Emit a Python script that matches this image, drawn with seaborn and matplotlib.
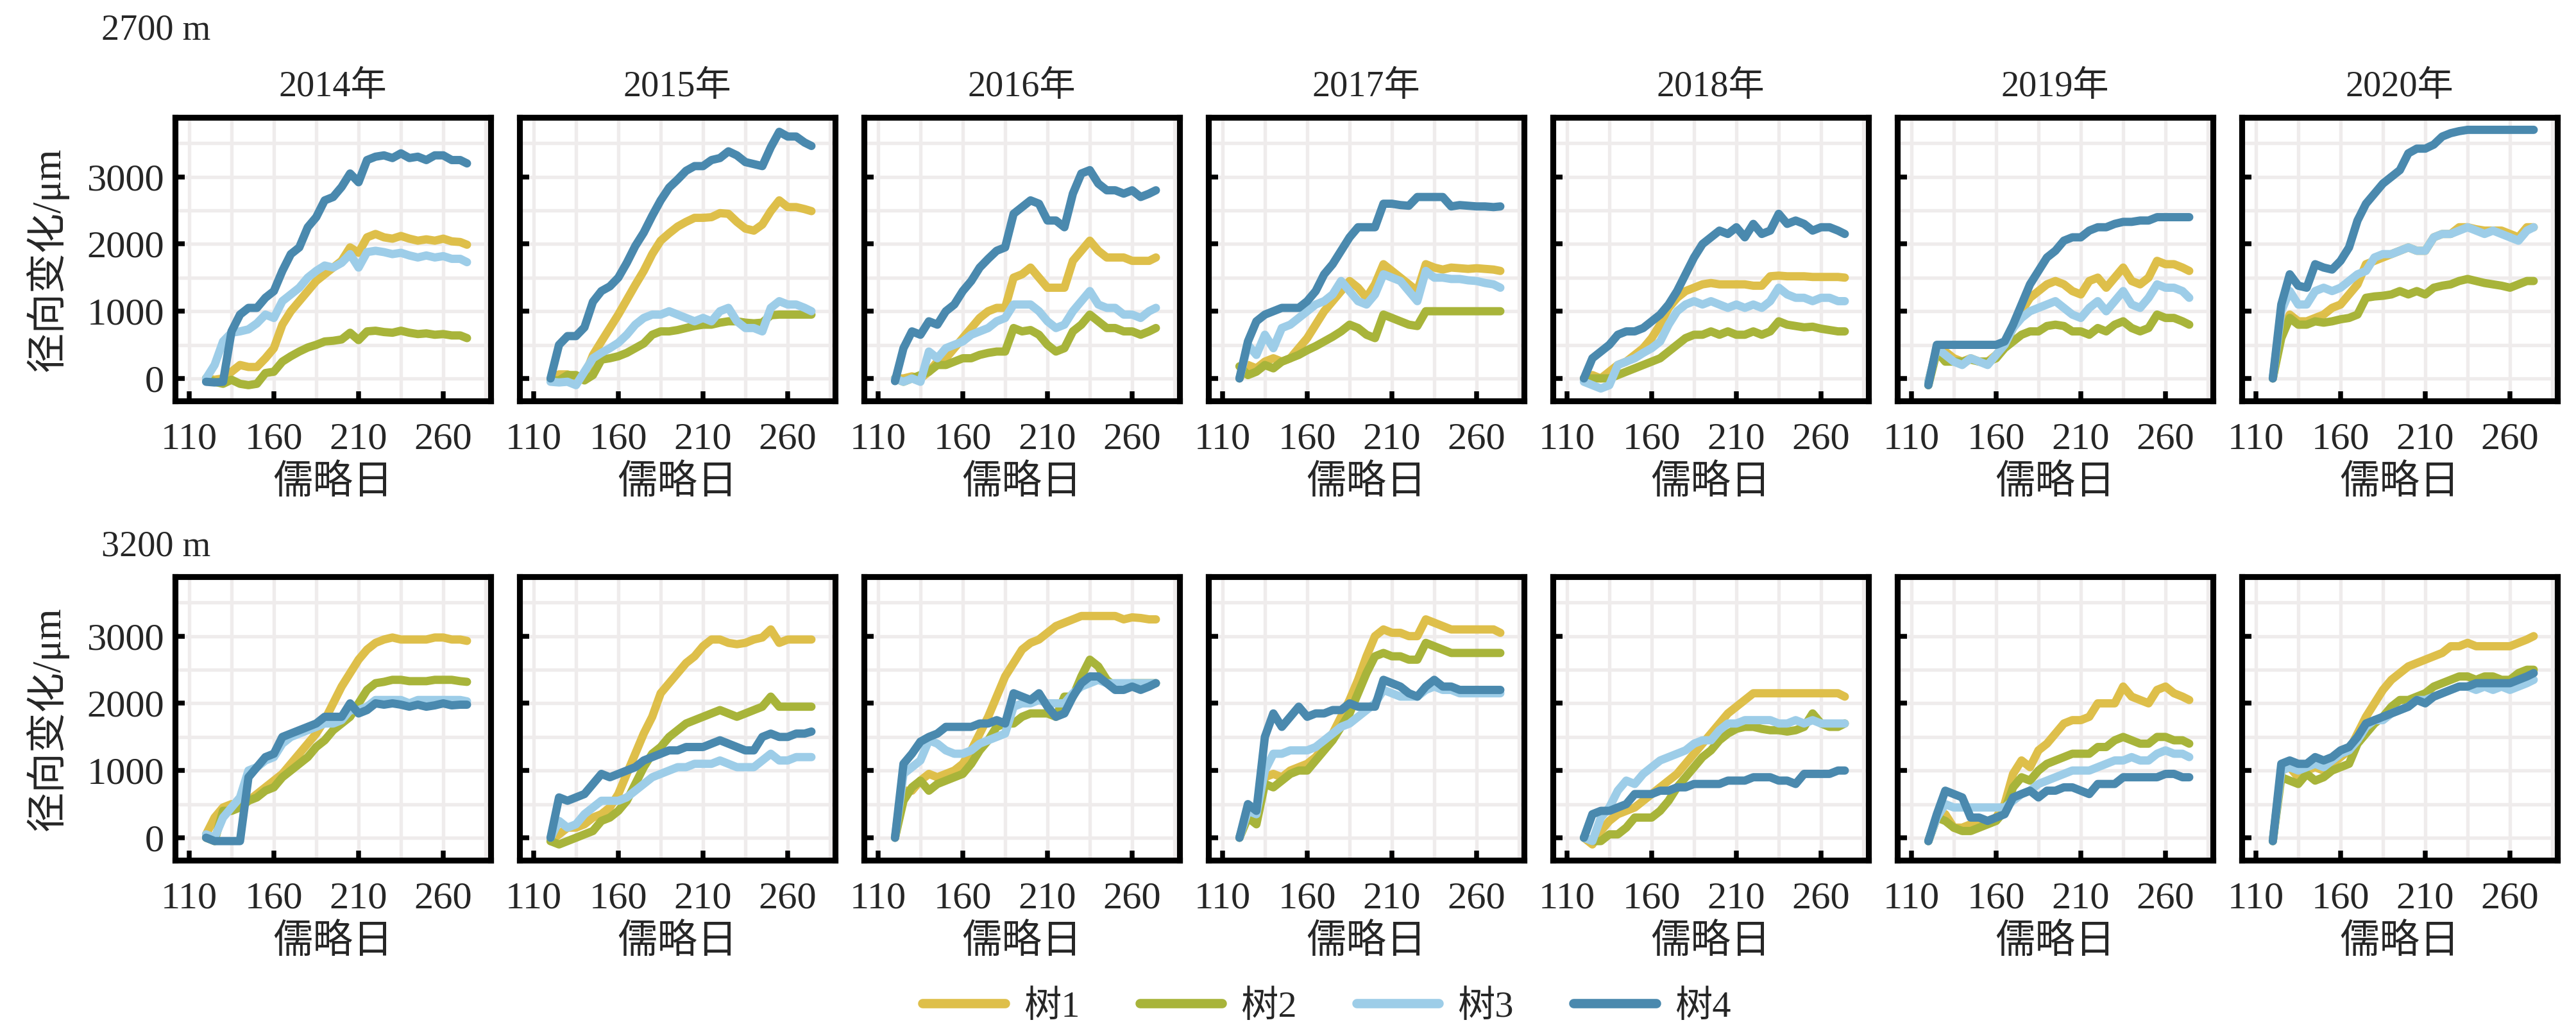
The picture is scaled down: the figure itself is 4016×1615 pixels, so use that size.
import matplotlib
matplotlib.use("Agg")
import matplotlib.pyplot as plt
import pandas as pd
import seaborn as sns
from matplotlib.ticker import FixedLocator, MultipleLocator

# Theme first, then fonts (set_theme resets font.family)
sns.set_theme(style="whitegrid")
plt.rcParams['font.family'] = ['Liberation Serif', 'Noto Sans CJK SC', 'DejaVu Sans']
plt.rcParams['axes.unicode_minus'] = False

# ---------------- data ----------------
days = [120, 125, 130, 135, 140, 145, 150, 155, 160, 165, 170, 175, 180, 185, 190, 195,
        200, 205, 210, 215, 220, 225, 230, 235, 240, 245, 250, 255, 260, 265, 270, 274]
years = ["2014年", "2015年", "2016年", "2017年", "2018年", "2019年", "2020年"]
trees = ["树1", "树2", "树3", "树4"]
sites = ["2700 m", "3200 m"]
colors = ["#DEBF4A", "#A8B43A", "#9DCDE8", "#4A89AE"]

# 2700 m
low_2014 = {
    "树1": [0, -20, 0, 100, 200, 170, 170, 300, 450, 800, 1000, 1150, 1300, 1450, 1550, 1650,
           1750, 1950, 1870, 2100, 2150, 2100, 2080, 2120, 2080, 2050, 2070, 2050, 2080, 2040, 2030, 1990],
    "树2": [0, -50, -80, -20, -80, -100, -80, 80, 100, 250, 330, 400, 460, 500, 550, 560,
           580, 680, 570, 700, 710, 690, 680, 710, 680, 660, 670, 650, 660, 640, 640, 600],
    "树3": [0, 200, 550, 680, 700, 730, 820, 950, 900, 1150, 1250, 1350, 1500, 1600, 1680, 1650,
           1720, 1850, 1650, 1880, 1900, 1880, 1850, 1870, 1830, 1800, 1830, 1800, 1820, 1780, 1780, 1730],
    "树4": [-50, -60, -50, 700, 950, 1050, 1050, 1200, 1300, 1600, 1850, 1950, 2250, 2400, 2650, 2700,
           2850, 3050, 2920, 3250, 3300, 3320, 3280, 3350, 3280, 3300, 3250, 3320, 3320, 3250, 3250, 3200],
}
low_2015 = {
    "树1": [-20, 60, 60, 0, 30, 345, 550, 750, 950, 1170, 1390, 1600, 1850, 2050, 2160, 2260,
           2330, 2390, 2390, 2400, 2460, 2450, 2330, 2230, 2200, 2290, 2490, 2650, 2550, 2550, 2520, 2490],
    "树2": [-30, -30, 50, 50, -30, 50, 280, 300, 330, 380, 450, 520, 650, 700, 700, 720,
           750, 780, 800, 800, 830, 850, 850, 830, 820, 830, 940, 950, 950, 950, 950, 950],
    "树3": [-50, -60, -50, -100, 100, 300, 380, 450, 530, 650, 800, 900, 950, 950, 1000, 950,
           900, 850, 900, 850, 1000, 1050, 850, 750, 750, 700, 1050, 1150, 1100, 1100, 1050, 1000],
    "树4": [0, 500, 630, 630, 760, 1140, 1300, 1370, 1500, 1720, 1970, 2170, 2420, 2650, 2840, 2960,
           3090, 3160, 3160, 3250, 3280, 3380, 3320, 3220, 3190, 3160, 3440, 3670, 3600, 3600, 3510, 3460],
}
low_2016 = {
    "树1": [0, 0, 30, 0, 100, 250, 300, 450, 600, 750, 900, 1000, 1050, 1050, 1500, 1550,
           1650, 1500, 1350, 1350, 1350, 1750, 1900, 2050, 1900, 1800, 1800, 1800, 1750, 1750, 1750, 1800],
    "树2": [0, -50, 0, 50, 100, 200, 200, 250, 300, 300, 350, 380, 400, 400, 750, 700,
           720, 650, 500, 400, 450, 700, 800, 950, 850, 750, 750, 700, 700, 650, 700, 750],
    "树3": [0, -50, 0, -50, 400, 300, 450, 500, 550, 650, 700, 750, 850, 900, 1100, 1100,
           1100, 1000, 850, 750, 800, 1000, 1150, 1300, 1100, 1050, 1050, 950, 950, 900, 1000, 1050],
    "树4": [-40, 450, 700, 650, 850, 800, 1000, 1100, 1300, 1450, 1650, 1780, 1900, 1950, 2450, 2550,
           2650, 2600, 2350, 2350, 2250, 2750, 3050, 3100, 2900, 2800, 2800, 2750, 2800, 2700, 2750, 2800],
}
low_2017 = {
    "树1": [0, 200, 150, 250, 300, 250, 300, 450, 600, 800, 1000, 1150, 1300, 1450, 1350, 1200,
           1400, 1700, 1600, 1500, 1400, 1300, 1700, 1650, 1620, 1650, 1640, 1630, 1640, 1630, 1620, 1600],
    "树2": [180, 50, 100, 200, 150, 250, 300, 350, 420, 480, 550, 620, 700, 800, 750, 650,
           600, 950, 900, 850, 800, 780, 1000, 1000, 1000, 1000, 1000, 1000, 1000, 1000, 1000, 1000],
    "树3": [0, 500, 350, 650, 450, 750, 800, 900, 1000, 1100, 1150, 1250, 1450, 1300, 1150, 1100,
           1250, 1550, 1500, 1450, 1300, 1150, 1600, 1500, 1500, 1480, 1480, 1460, 1450, 1420, 1400, 1350],
    "树4": [0, 550, 850, 950, 1000, 1050, 1050, 1050, 1150, 1300, 1550, 1700, 1900, 2100, 2250, 2250,
           2250, 2600, 2600, 2580, 2570, 2700, 2700, 2700, 2700, 2560, 2580, 2570, 2560, 2560, 2550, 2560],
}
low_2018 = {
    "树1": [0, 50, 0, 100, 200, 250, 350, 450, 600, 800, 1050, 1200, 1300, 1350, 1400, 1420,
           1400, 1400, 1400, 1400, 1380, 1380, 1520, 1530, 1520, 1520, 1520, 1510, 1510, 1510, 1510, 1500],
    "树2": [0, 0, 0, 0, 50, 100, 150, 200, 250, 300, 400, 500, 600, 650, 650, 700,
           650, 700, 650, 650, 700, 650, 700, 850, 800, 780, 760, 770, 740, 720, 700, 700],
    "树3": [-50, -100, -150, -100, 200, 250, 300, 380, 450, 550, 800, 1000, 1100, 1150, 1100, 1150,
           1100, 1050, 1100, 1050, 1100, 1050, 1150, 1350, 1250, 1200, 1200, 1150, 1200, 1200, 1150, 1150],
    "树4": [0, 300, 400, 500, 650, 700, 700, 750, 850, 950, 1100, 1300, 1550, 1800, 2000, 2100,
           2200, 2150, 2250, 2100, 2300, 2150, 2200, 2450, 2300, 2350, 2300, 2200, 2250, 2250, 2200, 2150],
}
low_2019 = {
    "树1": [-50, 450, 400, 300, 250, 300, 250, 250, 350, 500, 750, 1000, 1200, 1300, 1400, 1450,
           1400, 1300, 1250, 1450, 1500, 1350, 1500, 1650, 1450, 1400, 1500, 1750, 1700, 1700, 1650, 1600],
    "树2": [-100, 400, 250, 250, 250, 280, 250, 250, 300, 450, 550, 650, 700, 700, 780, 800,
           780, 700, 700, 650, 750, 700, 800, 850, 750, 700, 750, 950, 900, 900, 850, 800],
    "树3": [-50, 450, 350, 250, 200, 300, 250, 200, 350, 500, 750, 900, 1000, 1050, 1100, 1150,
           1050, 950, 900, 1050, 1150, 1000, 1150, 1300, 1100, 1050, 1200, 1400, 1350, 1350, 1300, 1200],
    "树4": [-100, 500, 500, 500, 500, 500, 500, 500, 500, 550, 800, 1100, 1400, 1600, 1800, 1900,
           2050, 2100, 2100, 2200, 2250, 2250, 2300, 2330, 2330, 2350, 2350, 2400, 2400, 2400, 2400, 2400],
}
low_2020 = {
    "树1": [0, 700, 950, 850, 850, 900, 950, 1050, 1100, 1250, 1400, 1700, 1750, 1800, 1850, 1900,
           1950, 1900, 1900, 2100, 2150, 2150, 2250, 2250, 2220, 2200, 2200, 2200, 2150, 2100, 2250, 2250],
    "树2": [0, 600, 900, 800, 800, 850, 830, 850, 880, 900, 950, 1200, 1220, 1230, 1250, 1300,
           1250, 1300, 1250, 1350, 1380, 1400, 1450, 1480, 1450, 1420, 1400, 1380, 1350, 1400, 1450, 1450],
    "树3": [0, 1000, 1300, 1100, 1100, 1300, 1350, 1300, 1350, 1450, 1550, 1600, 1800, 1850, 1850, 1900,
           1950, 1900, 1900, 2100, 2150, 2150, 2200, 2250, 2200, 2150, 2200, 2150, 2100, 2050, 2200, 2250],
    "树4": [0, 1100, 1550, 1380, 1350, 1700, 1650, 1620, 1750, 1950, 2350, 2600, 2750, 2900, 3000, 3100,
           3350, 3420, 3420, 3480, 3600, 3650, 3680, 3700, 3700, 3700, 3700, 3700, 3700, 3700, 3700, 3700],
}

# 3200 m
high_2014 = {
    "树1": [50, 300, 450, 500, 450, 550, 650, 750, 850, 950, 1100, 1250, 1400, 1550, 1750, 2000,
           2250, 2450, 2650, 2800, 2900, 2950, 2980, 2950, 2950, 2950, 2950, 2980, 2980, 2950, 2950, 2930],
    "树2": [0, -50, 400, 400, 450, 550, 600, 700, 750, 900, 1000, 1100, 1200, 1350, 1450, 1600,
           1700, 1800, 2000, 2200, 2300, 2320, 2350, 2350, 2330, 2330, 2330, 2350, 2350, 2350, 2330, 2320],
    "树3": [50, 0, 300, 450, 600, 1000, 1050, 1150, 1200, 1400, 1500, 1550, 1600, 1650, 1700, 1700,
           1750, 1900, 1900, 1950, 2050, 2050, 2050, 2050, 2000, 2050, 2050, 2050, 2050, 2050, 2050, 2030],
    "树4": [0, -50, -50, -50, -50, 900, 1050, 1200, 1250, 1500, 1550, 1600, 1650, 1700, 1800, 1800,
           1800, 2000, 1850, 1900, 2000, 1980, 2000, 1980, 1950, 1980, 1950, 1970, 2000, 1970, 1980, 1980],
}
high_2015 = {
    "树1": [-50, 50, 150, 150, 200, 300, 350, 450, 650, 950, 1250, 1550, 1800, 2150, 2300, 2450,
           2600, 2700, 2850, 2950, 2950, 2900, 2880, 2900, 2950, 2980, 3100, 2900, 2950, 2950, 2950, 2950],
    "树2": [-50, -100, -50, 0, 50, 100, 250, 300, 400, 550, 800, 1050, 1250, 1350, 1500, 1600,
           1700, 1750, 1800, 1850, 1900, 1850, 1800, 1850, 1900, 1950, 2100, 1950, 1950, 1950, 1950, 1950],
    "树3": [0, 250, 150, 200, 350, 450, 550, 550, 550, 600, 700, 800, 900, 950, 1000, 1050,
           1050, 1100, 1100, 1100, 1150, 1100, 1050, 1050, 1050, 1150, 1250, 1150, 1150, 1200, 1200, 1200],
    "树4": [0, 600, 550, 600, 650, 800, 950, 900, 950, 1000, 1050, 1150, 1200, 1250, 1300, 1300,
           1350, 1350, 1350, 1400, 1450, 1400, 1350, 1300, 1300, 1500, 1550, 1500, 1500, 1550, 1550, 1580],
}
high_2016 = {
    "树1": [0, 700, 700, 850, 950, 900, 950, 1000, 1100, 1300, 1550, 1800, 2100, 2400, 2600, 2800,
           2900, 2950, 3050, 3150, 3200, 3250, 3300, 3300, 3300, 3300, 3300, 3250, 3280, 3270, 3250, 3250],
    "树2": [0, 550, 750, 850, 700, 800, 850, 900, 950, 1100, 1300, 1450, 1650, 1700, 1700, 1800,
           1850, 1850, 1850, 1800, 2100, 2100, 2400, 2650, 2550, 2350, 2250, 2250, 2300, 2300, 2300, 2300],
    "树3": [0, 950, 1050, 1150, 1450, 1400, 1300, 1250, 1250, 1300, 1400, 1450, 1500, 1550, 1950, 2000,
           2000, 2050, 2000, 2000, 2000, 2150, 2250, 2300, 2350, 2300, 2300, 2300, 2300, 2300, 2300, 2300],
    "树4": [0, 1100, 1250, 1430, 1500, 1550, 1650, 1650, 1650, 1650, 1700, 1700, 1750, 1700, 2150, 2100,
           2050, 2150, 1950, 1800, 1850, 2100, 2300, 2400, 2400, 2300, 2200, 2200, 2250, 2200, 2250, 2300],
}
high_2017 = {
    "树1": [0, 400, 350, 900, 950, 900, 1000, 1050, 1100, 1200, 1350, 1550, 1800, 2050, 2350, 2700,
           3000, 3100, 3050, 3050, 3000, 3000, 3250, 3200, 3150, 3100, 3100, 3100, 3100, 3100, 3100, 3050],
    "树2": [0, 300, 200, 800, 750, 850, 950, 1000, 1000, 1150, 1300, 1450, 1650, 1850, 2150, 2450,
           2700, 2750, 2700, 2700, 2650, 2650, 2900, 2850, 2800, 2750, 2750, 2750, 2750, 2750, 2750, 2750],
    "树3": [0, 400, 350, 1000, 1250, 1250, 1300, 1300, 1300, 1350, 1450, 1550, 1650, 1700, 1800, 1900,
           2000, 2200, 2150, 2100, 2100, 2100, 2200, 2250, 2200, 2200, 2150, 2150, 2150, 2150, 2150, 2150],
    "树4": [0, 500, 400, 1500, 1850, 1650, 1800, 1950, 1800, 1850, 1850, 1900, 1900, 2000, 1950, 1950,
           1950, 2350, 2300, 2250, 2150, 2100, 2250, 2350, 2250, 2250, 2200, 2200, 2200, 2200, 2200, 2200],
}
high_2018 = {
    "树1": [0, -100, 100, 250, 350, 400, 450, 550, 650, 750, 850, 950, 1100, 1250, 1400, 1550,
           1700, 1850, 1950, 2050, 2150, 2150, 2150, 2150, 2150, 2150, 2150, 2150, 2150, 2150, 2150, 2100],
    "树2": [0, -50, -50, 50, 50, 150, 300, 300, 300, 400, 550, 750, 900, 1050, 1200, 1300,
           1450, 1550, 1620, 1650, 1650, 1620, 1600, 1600, 1580, 1600, 1650, 1850, 1700, 1650, 1650, 1700],
    "树3": [0, -50, 300, 450, 700, 850, 800, 950, 1050, 1150, 1200, 1250, 1300, 1400, 1450, 1450,
           1600, 1700, 1700, 1750, 1750, 1750, 1750, 1700, 1700, 1750, 1700, 1750, 1700, 1700, 1700, 1700],
    "树4": [0, 350, 400, 400, 450, 500, 650, 650, 650, 700, 700, 750, 750, 800, 800, 800,
           800, 850, 850, 850, 900, 900, 900, 850, 850, 800, 950, 950, 950, 950, 1000, 1000],
}
high_2019 = {
    "树1": [-50, 300, 350, 150, 150, 200, 200, 250, 300, 500, 950, 1150, 1050, 1300, 1400, 1550,
           1700, 1750, 1750, 1800, 2000, 2000, 2000, 2250, 2100, 2050, 2000, 2200, 2250, 2150, 2100, 2050],
    "树2": [-50, 300, 250, 150, 100, 100, 150, 200, 250, 400, 750, 900, 850, 1000, 1100, 1150,
           1200, 1250, 1250, 1250, 1350, 1350, 1450, 1500, 1450, 1400, 1400, 1500, 1500, 1450, 1450, 1400],
    "树3": [-50, 300, 500, 450, 450, 450, 450, 450, 450, 450, 550, 650, 700, 800, 850, 900,
           950, 1000, 1000, 1000, 1050, 1100, 1150, 1150, 1200, 1150, 1150, 1250, 1300, 1250, 1250, 1200],
    "树4": [-50, 350, 700, 650, 600, 300, 300, 250, 300, 350, 600, 650, 700, 600, 700, 700,
           750, 750, 700, 650, 800, 800, 800, 900, 900, 900, 900, 900, 950, 950, 900, 900],
}
high_2020 = {
    "树1": [-50, 1000, 1050, 900, 1000, 1050, 1000, 1100, 1200, 1300, 1550, 1800, 2000, 2200, 2350, 2450,
           2550, 2600, 2650, 2700, 2750, 2850, 2850, 2900, 2850, 2850, 2850, 2850, 2850, 2900, 2950, 3000],
    "树2": [-50, 900, 850, 800, 950, 850, 900, 1000, 1050, 1100, 1400, 1550, 1700, 1800, 1950, 2050,
           2050, 2100, 2150, 2250, 2300, 2350, 2400, 2400, 2350, 2400, 2400, 2350, 2350, 2450, 2500, 2500],
    "树3": [-50, 1000, 1050, 1000, 1050, 1100, 1050, 1150, 1250, 1300, 1450, 1650, 1750, 1750, 1850, 1900,
           1950, 2050, 2050, 2100, 2150, 2200, 2250, 2250, 2200, 2250, 2200, 2250, 2200, 2250, 2300, 2350],
    "树4": [-50, 1100, 1150, 1100, 1100, 1200, 1150, 1200, 1300, 1350, 1500, 1700, 1750, 1800, 1850, 1900,
           1950, 2050, 2000, 2100, 2150, 2200, 2250, 2250, 2300, 2300, 2300, 2300, 2300, 2350, 2400, 2450],
}

panels = [
    [low_2014, low_2015, low_2016, low_2017, low_2018, low_2019, low_2020],
    [high_2014, high_2015, high_2016, high_2017, high_2018, high_2019, high_2020],
]

# ---------------- layout (pixel geometry of the original) ----------------
W, H = 4016, 1615
fig = plt.figure(figsize=(W / 300, H / 300), dpi=300)

ax_left0, ax_step, ax_w, ax_h = 273, 537, 492, 442
row_top = [183, 899]
grid_color = "#EFECEC"

for r in range(2):
    for c in range(7):
        ax = fig.add_axes([(ax_left0 + ax_step * c) / W, 1 - (row_top[r] + ax_h) / H,
                           ax_w / W, ax_h / H])
        data = panels[r][c]
        df = pd.DataFrame({
            "day": days * 4,
            "value": sum([data[t] for t in trees], []),
            "tree": sum([[t] * len(days) for t in trees], []),
        })
        sns.lineplot(data=df, x="day", y="value", hue="tree", hue_order=trees,
                     palette=colors, linewidth=3.1, ax=ax, legend=(r == 0 and c == 0))

        ax.set_xlim(101.7, 288)
        ax.set_ylim(-335, 3885)
        ax.xaxis.set_major_locator(FixedLocator([110, 160, 210, 260]))
        ax.xaxis.set_minor_locator(FixedLocator([135, 185, 235, 285]))
        ax.yaxis.set_major_locator(FixedLocator([0, 1000, 2000, 3000]))
        ax.yaxis.set_minor_locator(MultipleLocator(500))
        ax.grid(True, which="both", color=grid_color, linewidth=1.3)
        ax.set_axisbelow(True)
        ax.set_facecolor("white")
        for s in ax.spines.values():
            s.set_color("black")
            s.set_linewidth(2.2)
        ax.tick_params(which="major", direction="in", length=3.5, width=1.8, color="black",
                       labelsize=14.5, bottom=True, left=True, top=False, right=False)
        ax.tick_params(axis="x", which="major", pad=8)
        ax.tick_params(axis="y", which="major", pad=4)
        ax.tick_params(which="minor", length=0)

        ax.set_xlabel("儒略日", fontsize=15, labelpad=3)
        if c == 0:
            ax.set_ylabel("径向变化/μm", fontsize=15, labelpad=7)
        else:
            ax.set_ylabel("")
            ax.set_yticklabels([])
        if r == 0:
            ax.set_title(years[c], fontsize=13.5, pad=8)

        if r == 0 and c == 0:
            handles, labels = ax.get_legend_handles_labels()
            ax.get_legend().remove()

for r, site in enumerate(sites):
    fig.text(158 / W, 1 - [47, 852][r] / H, site, fontsize=13.5, va="center", ha="left")

leg = fig.legend(handles, labels, loc="center", bbox_to_anchor=(0.515, 0.028), ncol=4,
                 frameon=False, fontsize=14, handlelength=2.2, handletextpad=0.5,
                 columnspacing=1.6)
for line in leg.get_lines():
    line.set_linewidth(3.5)

fig.savefig("out.png", dpi=300)
